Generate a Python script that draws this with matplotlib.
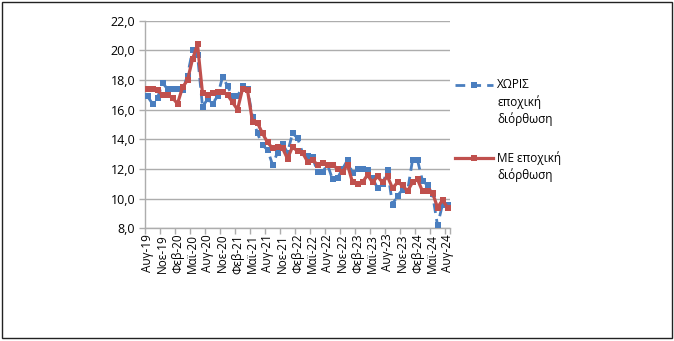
"""Unemployment rate, with and without seasonal adjustment (Aug-19 .. Aug-24)."""

import matplotlib

matplotlib.use("Agg")
import matplotlib.pyplot as plt
from matplotlib.lines import Line2D
from matplotlib.patches import Rectangle
from matplotlib.ticker import FixedLocator, FuncFormatter

plt.rcParams["font.family"] = ["Open Sans", "DejaVu Sans"]

# monthly values, Aug-19 .. Aug-24 (61 months)
no_adjust = [
    16.9, 16.4, 16.8, 17.8, 17.4, 17.4, 17.4, 17.3, 18.3, 20.0,
    19.7, 16.2, 16.7, 16.4, 16.9, 18.2, 17.6, 16.9, 16.9, 17.6,
    17.4, 15.5, 14.4, 13.6, 13.3, 12.3, 13.1, 13.7, 13.1, 14.4,
    14.1, 13.1, 12.9, 12.8, 11.8, 11.8, 12.3, 11.3, 11.4, 12.0,
    12.6, 11.7, 12.0, 12.0, 11.9, 11.4, 10.7, 11.0, 11.9, 9.6,
    10.2, 10.6, 10.5, 12.6, 12.6, 11.2, 10.9, 10.3, 8.2, 9.6,
    9.6,
]
with_adjust = [
    17.4, 17.4, 17.3, 17.0, 17.0, 16.8, 16.4, 17.5, 18.0, 19.4,
    20.4, 17.1, 17.0, 17.1, 17.2, 17.2, 17.0, 16.5, 16.0, 17.4,
    17.3, 15.2, 15.1, 14.4, 13.8, 13.4, 13.5, 13.4, 12.7, 13.5,
    13.2, 13.1, 12.5, 12.6, 12.3, 12.4, 12.3, 12.3, 12.0, 11.8,
    12.3, 11.1, 11.0, 11.1, 11.6, 11.1, 11.5, 11.1, 11.5, 10.7,
    11.1, 10.9, 10.5, 11.1, 11.3, 10.5, 10.5, 10.4, 9.4, 9.9,
    9.4,
]
tick_labels = [
    "Αυγ-19", "Νοε-19", "Φεβ-20", "Μαϊ-20", "Αυγ-20", "Νοε-20", "Φεβ-21",
    "Μαϊ-21", "Αυγ-21", "Νοε-21", "Φεβ-22", "Μαϊ-22", "Αυγ-22", "Νοε-22",
    "Φεβ-23", "Μαϊ-23", "Αυγ-23", "Νοε-23", "Φεβ-24", "Μαϊ-24", "Αυγ-24",
]
legend_labels = [
    ["ΧΩΡΙΣ", "εποχική", "διόρθωση"],
    ["ΜΕ εποχική", "διόρθωση"],
]

BLUE = "#4A7EBF"
RED = "#C0504D"
GRID = "#ADADAD"
DASH = (0, (3.5, 2.2))
W, H = 674, 341


def fx(px):
    return px / W


def fy(py):
    return 1 - py / H


fig = plt.figure(figsize=(W / 100, H / 100), dpi=100)
ax = fig.add_axes([fx(145), fy(228.3), fx(450) - fx(145), fy(20.7) - fy(228.3)])

x = list(range(len(no_adjust)))
ax.plot(x, no_adjust, color=BLUE, lw=2, ls=DASH, marker="s",
        markersize=4, markeredgewidth=0, zorder=3)
ax.plot(x, with_adjust, color=RED, lw=2.3, marker="s", markersize=4,
        markeredgewidth=0, zorder=4)

ax.set_xlim(-0.5, len(x) - 0.5)
ax.set_ylim(8, 22)
ax.set_yticks(range(8, 23, 2))
ax.yaxis.set_major_formatter(FuncFormatter(lambda v, _: f"{v:.1f}".replace(".", ",")))
ax.grid(axis="y", color=GRID, lw=1)
ax.set_axisbelow(True)

ax.set_xticks(range(0, len(x), 3))
ax.set_xticklabels(tick_labels, rotation=90)
ax.xaxis.set_minor_locator(FixedLocator([i - 0.5 for i in range(0, len(x), 3)] + [len(x) - 0.5]))
ax.tick_params(axis="x", which="major", length=0, pad=4, labelsize=8.5)
ax.tick_params(axis="x", which="minor", length=4, color=GRID, width=1)
ax.tick_params(axis="y", length=4, color=GRID, width=1, pad=3, labelsize=9)

for side in ("top", "right"):
    ax.spines[side].set_visible(False)
for side in ("left", "bottom"):
    ax.spines[side].set_color(GRID)
    ax.spines[side].set_linewidth(1)

# legend drawn by hand so the marker lines up with the first text line
legend_style = [
    dict(color=BLUE, lw=2, ls=DASH),
    dict(color=RED, lw=2.3, ls="-"),
]
legend_y = [85, 158]
for lines, style, y0 in zip(legend_labels, legend_style, legend_y):
    fig.add_artist(Line2D([fx(455), fx(493)], [fy(y0), fy(y0)], **style))
    fig.add_artist(Line2D([fx(474)], [fy(y0)], color=style["color"], marker="s",
                          markersize=4, markeredgewidth=0, ls="none"))
    for k, line in enumerate(lines):
        fig.text(fx(497), fy(y0 + 17 * k), line, fontsize=8.5, va="center", ha="left")

fig.add_artist(Rectangle((fx(1.5), fy(337.5)), fx(670), fy(1.5) - fy(337.5),
                         fill=False, edgecolor="#222222", lw=1))

fig.savefig("out.png", dpi=100)
plt.close(fig)
